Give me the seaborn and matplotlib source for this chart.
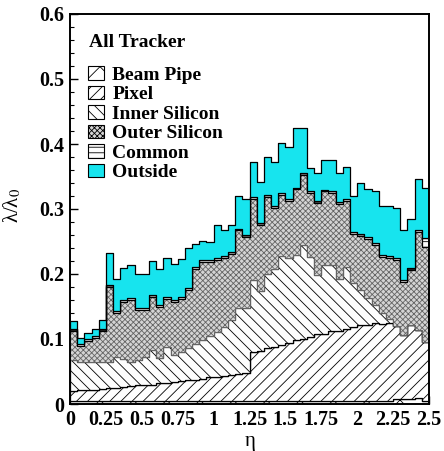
import numpy as np
import pandas as pd
import matplotlib
matplotlib.use("Agg")
import matplotlib.pyplot as plt
import matplotlib.patches as mpatches
from matplotlib.ticker import MultipleLocator, FuncFormatter
import seaborn as sns

# Nuclear interaction length (lambda / lambda_0) per tracker component,
# in 50 pseudorapidity bins of width 0.05 between eta = 0 and 2.5.
eta_edges = [round(0.05 * i, 2) for i in range(51)]

components = ["Beam Pipe", "Pixel", "Inner Silicon", "Outer Silicon", "Common", "Outside"]

beam_pipe = [0.004] * 45 + [0.007, 0.007, 0.007, 0.009, 0.005]

pixel = [0.016, 0.017, 0.017, 0.018, 0.019, 0.021, 0.021, 0.022, 0.024, 0.025,
         0.026, 0.026, 0.028, 0.029, 0.030, 0.031, 0.033, 0.033, 0.035, 0.037,
         0.038, 0.039, 0.041, 0.042, 0.043, 0.076, 0.078, 0.082, 0.084, 0.087,
         0.090, 0.094, 0.096, 0.099, 0.103, 0.104, 0.108, 0.109, 0.112, 0.114,
         0.117, 0.118, 0.120, 0.119, 0.121, 0.113, 0.099, 0.114, 0.105, 0.090]

inner_silicon = [0.048, 0.043, 0.043, 0.043, 0.042, 0.039, 0.048, 0.044, 0.037, 0.039,
                 0.043, 0.053, 0.038, 0.055, 0.042, 0.045, 0.049, 0.056, 0.059, 0.064,
                 0.069, 0.076, 0.084, 0.101, 0.100, 0.110, 0.092, 0.114, 0.120, 0.137,
                 0.131, 0.131, 0.145, 0.123, 0.091, 0.106, 0.102, 0.079, 0.095, 0.068,
                 0.054, 0.041, 0.028, 0.017, 0.006, 0.0, 0.0, 0.0, 0.0, 0.0]

outer_silicon = [0.044, 0.025, 0.033, 0.037, 0.048, 0.116, 0.067, 0.087, 0.095, 0.077,
                 0.071, 0.082, 0.079, 0.074, 0.081, 0.081, 0.089, 0.114, 0.121, 0.114,
                 0.110, 0.105, 0.102, 0.120, 0.110, 0.126, 0.101, 0.119, 0.093, 0.093,
                 0.088, 0.101, 0.108, 0.099, 0.111, 0.113, 0.111, 0.115, 0.102, 0.075,
                 0.084, 0.091, 0.092, 0.086, 0.093, 0.101, 0.082, 0.085, 0.150, 0.147]

common = [0.003] * 48 + [0.004, 0.013]

outside = [0.012, 0.009, 0.010, 0.011, 0.014, 0.050, 0.049, 0.049, 0.051, 0.052,
           0.053, 0.052, 0.055, 0.059, 0.056, 0.059, 0.062, 0.036, 0.029, 0.027,
           0.051, 0.041, 0.041, 0.050, 0.056, 0.054, 0.063, 0.058, 0.068, 0.077,
           0.080, 0.092, 0.069, 0.035, 0.044, 0.046, 0.048, 0.046, 0.049, 0.056,
           0.078, 0.074, 0.081, 0.076, 0.077, 0.077, 0.077, 0.075, 0.078, 0.078]

layer_values = dict(zip(components, [beam_pipe, pixel, inner_silicon,
                                     outer_silicon, common, outside]))

# Fill colour and hatch for every component (near-white shades keep them distinct)
face_colors = {
    "Beam Pipe": "#ffffff",
    "Pixel": "#fefefe",
    "Inner Silicon": "#fdfdfd",
    "Outer Silicon": "#d4d4d4",
    "Common": "#fcfcfc",
    "Outside": "#17e4ee",
}
hatches = {
    "Beam Pipe": "x",
    "Pixel": "///",
    "Inner Silicon": "\\\\\\",
    "Outer Silicon": "xxxxxx",
    "Common": "---",
    "Outside": "",
}

edges_arr = np.asarray(eta_edges)
centers = 0.5 * (edges_arr[:-1] + edges_arr[1:])
df = pd.DataFrame({
    "eta": np.tile(centers, len(components)),
    "value": np.concatenate([layer_values[c] for c in components]),
    "component": np.repeat(components, len(centers)),
})

sns.set_theme(style="white")
plt.rcParams["font.family"] = ["Liberation Serif", "DejaVu Serif"]
plt.rcParams["mathtext.fontset"] = "stix"
plt.rcParams["hatch.linewidth"] = 0.6
for key in ("text.color", "axes.labelcolor", "xtick.color", "ytick.color",
            "axes.edgecolor"):
    plt.rcParams[key] = "black"

fig = plt.figure(figsize=(4.44, 4.51), dpi=100)
ax = fig.add_axes([70 / 444, 1 - 404 / 451, 359 / 444, 390 / 451])

sns.histplot(data=df, x="eta", weights="value", hue="component",
             hue_order=components[::-1], multiple="stack", bins=eta_edges,
             element="step", fill=True, alpha=1.0, palette=face_colors,
             linewidth=0.9, edgecolor="black", legend=False, ax=ax)

# Apply hatching to each stacked layer, identified by its fill colour
for coll in ax.collections:
    fc = coll.get_facecolor()
    if len(fc) == 0:
        continue
    for name, col in face_colors.items():
        if np.allclose(fc[0][:3], matplotlib.colors.to_rgb(col), atol=1e-3):
            coll.set_hatch(hatches[name])
            if name == "Outer Silicon":
                coll.set_edgecolor("#646464")
                coll.set_linewidth(0.6)
            break

ax.set_xlim(0, 2.5)
ax.set_ylim(0, 0.6)
ax.xaxis.set_major_locator(MultipleLocator(0.25))
ax.xaxis.set_minor_locator(MultipleLocator(0.05))
ax.yaxis.set_major_locator(MultipleLocator(0.1))
ax.yaxis.set_minor_locator(MultipleLocator(0.02))
fmt = FuncFormatter(lambda v, _: f"{v:g}")
ax.xaxis.set_major_formatter(fmt)
ax.yaxis.set_major_formatter(fmt)
ax.tick_params(which="both", direction="in", left=True, bottom=True,
               top=False, right=False, colors="black", labelcolor="black")
ax.tick_params(which="major", length=6, width=1.0, pad=4, labelsize=14.5)
ax.tick_params(which="minor", length=3, width=0.8)
for lab in ax.get_xticklabels() + ax.get_yticklabels():
    lab.set_fontweight("bold")
for sp in ax.spines.values():
    sp.set_color("black")
    sp.set_linewidth(1.4)

ax.set_xlabel("η", fontsize=15, color="black")
ax.xaxis.set_label_coords(180 / 359, -28 / 390)
ax.set_ylabel("λ/λ$_{0}$", fontsize=15, color="black")
ax.yaxis.set_label_coords(-47 / 359, 0.51)

ax.text(89 / 444, 1 - 47 / 451, "All Tracker", transform=fig.transFigure,
        fontsize=14, fontweight="bold", ha="left", va="baseline", color="black")

handles = [mpatches.Patch(facecolor=face_colors[c], edgecolor="black",
                          hatch=hatches[c], linewidth=0.8) for c in components]
leg = ax.legend(handles, components, loc="upper left",
                bbox_to_anchor=(88 / 444, 1 - 66 / 451),
                bbox_transform=fig.transFigure, frameon=False,
                prop={"weight": "bold", "size": 14}, borderpad=0,
                borderaxespad=0, handlelength=0.8, handleheight=0.7,
                handletextpad=0.45, labelspacing=0.1, labelcolor="black")

fig.savefig("out.png", dpi=100)
